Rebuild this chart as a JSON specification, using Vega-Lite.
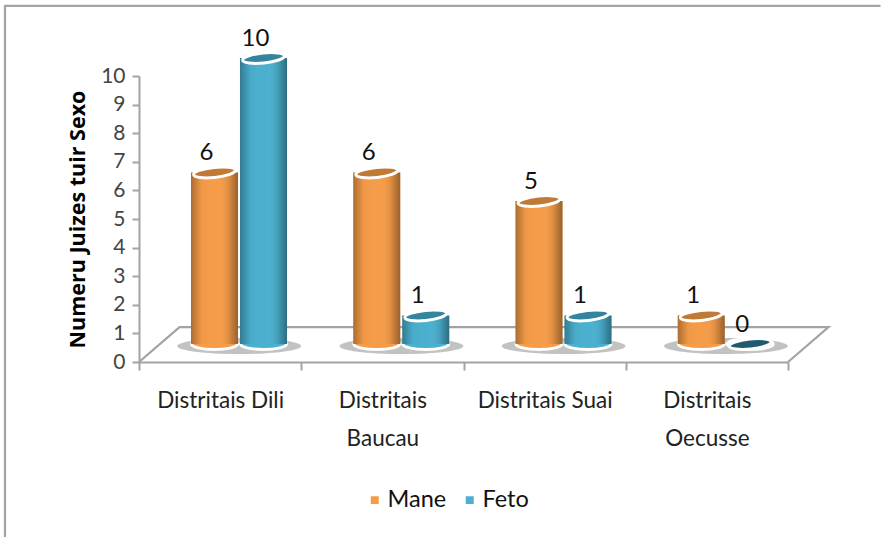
{
"$schema":"https://vega.github.io/schema/vega-lite/v6.json",
"autosize":{"type":"none"},
"width":649,"height":286,
"padding":{"left":139,"top":76,"right":93,"bottom":175},
"background":"white",
"config":{"view":{"stroke":null},"font":"Lato",
 "axisY":{"titleFont":"Open Sans","titleFontSize":21.5,"titleFontWeight":"bold","titleColor":"#000000","titlePadding":11,"tickCount":11,"grid":false,"tickSize":7,"tickColor":"#a3a3a3","tickWidth":2,"domainColor":"#a3a3a3","domainWidth":2,"labelFontSize":21,"labelColor":"#444444","labelPadding":7}},
"datasets":{
 "juizes":[
  {"Distrito":"Distritais Dili","Sexo":"Mane","Valor":6},
  {"Distrito":"Distritais Dili","Sexo":"Feto","Valor":10},
  {"Distrito":"Distritais Baucau","Sexo":"Mane","Valor":6},
  {"Distrito":"Distritais Baucau","Sexo":"Feto","Valor":1},
  {"Distrito":"Distritais Suai","Sexo":"Mane","Valor":5},
  {"Distrito":"Distritais Suai","Sexo":"Feto","Valor":1},
  {"Distrito":"Distritais Oecusse","Sexo":"Mane","Valor":1},
  {"Distrito":"Distritais Oecusse","Sexo":"Feto","Valor":0}
 ],
 "moldura":[
  {"peca":"quadro","ordem":1,"px":-0.826,"py":-6.12},
  {"peca":"quadro","ordem":2,"px":-0.826,"py":12.45},
  {"peca":"quadro","ordem":3,"px":4.57,"py":12.45},
  {"peca":"chao","ordem":1,"px":0,"py":0},
  {"peca":"chao","ordem":2,"px":0.25,"py":1.22},
  {"peca":"chao","ordem":3,"px":4.25,"py":1.22},
  {"peca":"chao","ordem":4,"px":4,"py":0}
 ]
},
"resolve":{"scale":{"x":"independent"}},
"layer":[
 {
  "data":{"name":"moldura"},
  "mark":{"type":"line","color":"#a3a3a3","strokeWidth":2.2,"clip":false},
  "encoding":{
   "x":{"field":"px","type":"quantitative","scale":{"domain":[0,4],"nice":false,"zero":false},"axis":null},
   "y":{"field":"py","type":"quantitative","title":"Numeru Juizes tuir Sexo","scale":{"domain":[0,10],"nice":false}},
   "detail":{"field":"peca"},
   "order":{"field":"ordem"}
  }
 },
 {
  "data":{"name":"juizes"},
  "encoding":{
   "x":{"field":"Distrito","type":"nominal","sort":null,
    "scale":{"type":"band","paddingInner":0,"paddingOuter":0,"domain":["Distritais Dili","Distritais Baucau","Distritais Suai","Distritais Oecusse"]},
    "axis":{"title":null,"orient":"bottom","tickBand":"extent","tickSize":8,"tickColor":"#a3a3a3","tickWidth":2,"domainColor":"#a3a3a3","domainWidth":2,"labelAngle":0,"labelFontSize":22.5,"labelColor":"#222222","labelPadding":19,"labelLimit":200,"labelLineHeight":38,"labelExpr":"length(datum.label)>15?split(datum.label,' '):datum.label"}},
   "xOffset":{"field":"Sexo","type":"nominal","sort":["Mane","Feto"],"scale":{"type":"band","domain":["Mane","Feto"],"range":[19,181],"paddingInner":0.04,"paddingOuter":0.673}},
   "y":{"field":"Valor","type":"quantitative","title":"Numeru Juizes tuir Sexo"}
  },
  "layer":[
   {
    "transform":[{"filter":"datum.Sexo==='Mane'"}],
    "mark":{"type":"point","filled":true,"xOffset":19,"yOffset":-16,"shape":"M-1,0A1,0.13,0,1,0,1,0A1,0.13,0,1,0,-1,0Z","size":15376,"color":"#8f8f8f","opacity":0.55},
    "encoding":{"xOffset":null,"y":{"datum":0,"title":"Numeru Juizes tuir Sexo"}}
   },
   {
    "mark":{"type":"point","filled":true,"yOffset":-18,"shape":"M-1,0A1,0.24,0,1,0,1,0A1,0.24,0,1,0,-1,0Z","size":2116,"stroke":"white","strokeWidth":3,"opacity":1},
    "encoding":{"y":{"datum":0,"title":"Numeru Juizes tuir Sexo"},"color":{"field":"Sexo","type":"nominal","sort":["Mane","Feto"]}}
   },
   {
    "mark":{"type":"bar","yOffset":-18,"y2Offset":-18},
    "encoding":{"color":{"field":"Sexo","type":"nominal","sort":["Mane","Feto"],
      "scale":{"domain":["Mane","Feto"],"range":["#f69c48","#4ab0cf"]},
      "legend":{"title":null,"orient":"none","legendX":224,"legendY":412,"direction":"horizontal","symbolType":"square","symbolSize":90,"labelFontSize":23.5,"labelColor":"#111111","columnPadding":11,"labelOffset":1}}}
   },
   {
    "mark":{"type":"bar","yOffset":-18,"y2Offset":-18,"fill":{"x1":0,"x2":1,"y1":0,"y2":0,"gradient":"linear","stops":[{"offset":0,"color":"rgba(0,0,0,0.3)"},{"offset":0.22,"color":"rgba(0,0,0,0.03)"},{"offset":0.55,"color":"rgba(255,255,255,0)"},{"offset":0.8,"color":"rgba(0,0,0,0.1)"},{"offset":1,"color":"rgba(0,0,0,0.38)"}]}}
   },
   {
    "mark":{"type":"point","filled":true,"yOffset":-18,"shape":"M-0.995,0.105A1,0.24,-6,1,0,0.995,-0.105A1,0.24,-6,1,0,-0.995,0.105Z","size":1764,"stroke":"white","strokeWidth":3,"opacity":1},
    "encoding":{"fill":{"condition":{"test":"datum.Valor===0","value":"#1e5b70"},"field":"Sexo","type":"nominal","legend":null,"scale":{"domain":["Mane","Feto"],"range":["#c17a35","#35849f"]}}}
   },
   {
    "mark":{"type":"text","yOffset":-37,"dx":-8,"fontSize":24,"color":"#111111","baseline":"middle"},
    "encoding":{"text":{"field":"Valor","type":"quantitative"}}
   }
  ]
 }
]
}
